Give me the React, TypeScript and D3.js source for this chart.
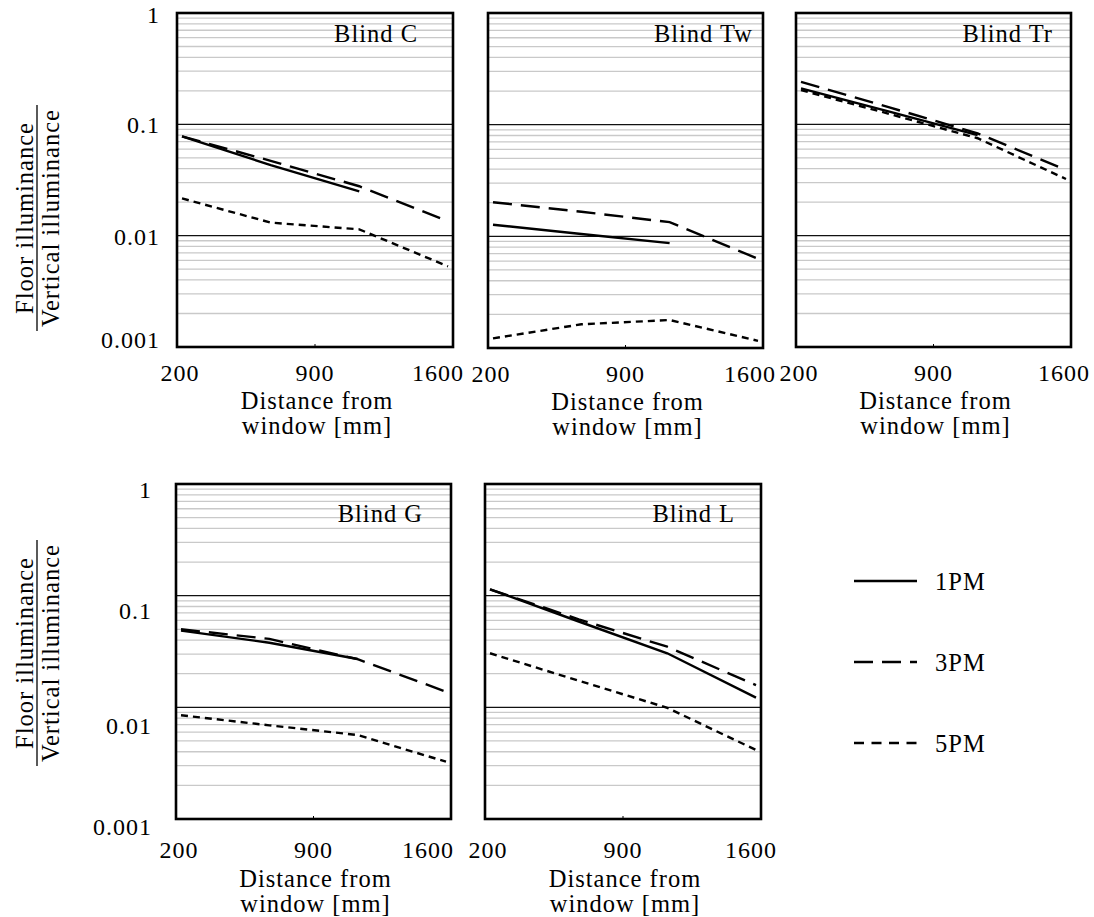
import React from "react";
import * as d3 from "d3";

// ---- data ----
const distances = [200, 667, 1133, 1600];
const xTickValues = [200, 900, 1600];
const yTickValues = [1, 0.1, 0.01, 0.001];
const yTickLabels = ["1", "0.1", "0.01", "0.001"];
const seriesNames = ["1PM", "3PM", "5PM"];
const blindNames = ["Blind C", "Blind Tw", "Blind Tr", "Blind G", "Blind L"];

const blindC_1PM = [0.078, 0.043, 0.025, null];
const blindC_3PM = [0.078, 0.047, 0.0278, 0.0135];
const blindC_5PM = [0.0216, 0.0131, 0.0114, 0.0053];

const blindTw_1PM = [0.0127, 0.0105, 0.0087, null];
const blindTw_3PM = [0.0202, 0.0166, 0.0134, 0.0063];
const blindTw_5PM = [0.00122, 0.00163, 0.00178, 0.00116];

const blindTr_1PM = [0.21, 0.13, 0.08, null];
const blindTr_3PM = [0.241, 0.142, 0.083, 0.039];
const blindTr_5PM = [0.203, 0.124, 0.075, 0.0323];

const blindG_1PM = [0.0486, 0.0379, 0.0271, null];
const blindG_3PM = [0.05, 0.041, 0.027, 0.0138];
const blindG_5PM = [0.0085, 0.0069, 0.00565, 0.00326];

const blindL_1PM = [0.114, 0.0587, 0.0305, 0.0122];
const blindL_3PM = [0.114, 0.0614, 0.0349, 0.0158];
const blindL_5PM = [0.0305, 0.0173, 0.0099, 0.00415];

const blindSeries = [
  [blindC_1PM, blindC_3PM, blindC_5PM],
  [blindTw_1PM, blindTw_3PM, blindTw_5PM],
  [blindTr_1PM, blindTr_3PM, blindTr_5PM],
  [blindG_1PM, blindG_3PM, blindG_5PM],
  [blindL_1PM, blindL_3PM, blindL_5PM],
];

// ---- layout / styles ----
const FONT = "'Liberation Serif', 'Times New Roman', serif";
const FS = 24.5;
const LS = 1;
const TFS = 24;
const dashes = ["none", "19,9", "7,5"];
const panels = [
  { left: 177, top: 13, w: 276, h: 334, row: 0, yLabels: true, titleMargin: 35, x1600Shift: -10 },
  { left: 488, top: 13, w: 275, h: 335, row: 0, yLabels: false, titleMargin: 10, x1600Shift: -8 },
  { left: 796, top: 13, w: 275, h: 334, row: 0, yLabels: false, titleMargin: 18, x1600Shift: -2 },
  { left: 176, top: 484, w: 275, h: 335, row: 1, yLabels: true, titleMargin: 28, x1600Shift: -18 },
  { left: 485, top: 484, w: 276, h: 335, row: 1, yLabels: false, titleMargin: 26, x1600Shift: -5 },
];
const rows = [
  { tickDy: 26, title1Dy: 53, title2Dy: 78, yLabelShift: [2, 1, 1, -7], titleDy: 20, yTitleCy: 218 },
  { tickDy: 31, title1Dy: 59, title2Dy: 84, yLabelShift: [6, 15, 19, 8], titleDy: 29, yTitleCy: 653 },
];

function Panel({ p, idx }) {
  const x = d3.scaleLinear().domain([200, 1600]).range([p.left + 5, p.left + p.w - 5]);
  const y = d3.scaleLog().domain([0.001, 1]).range([p.top + p.h, p.top]);
  const r = rows[p.row];
  const minor = [];
  [0.001, 0.01, 0.1].forEach((d) => {
    for (let k = 2; k <= 9; k++) minor.push(d * k);
  });
  const line = d3
    .line()
    .defined((d) => d[1] != null)
    .x((d) => x(d[0]))
    .y((d) => y(d[1]));
  return (
    <g>
      {minor.map((v, i) => (
        <line key={"m" + i} x1={p.left} x2={p.left + p.w} y1={y(v)} y2={y(v)} stroke="#c9c9c9" strokeWidth={1.3} />
      ))}
      {[0.1, 0.01].map((v) => (
        <line key={"M" + v} x1={p.left} x2={p.left + p.w} y1={y(v)} y2={y(v)} stroke="#111" strokeWidth={1.2} />
      ))}
      {blindSeries[idx].map((vals, si) => (
        <path
          key={"s" + si}
          d={line(distances.map((dx, i) => [dx, vals[i]]))}
          fill="none"
          stroke="#000"
          strokeWidth={2.4}
          strokeDasharray={dashes[si]}
        />
      ))}
      <rect x={p.left} y={p.top} width={p.w} height={p.h} fill="none" stroke="#000" strokeWidth={2.6} />
      <line x1={x(900)} x2={x(900)} y1={p.top + p.h} y2={p.top + p.h - 3} stroke="#000" strokeWidth={1} />
      <text
        x={p.left + p.w - p.titleMargin}
        y={p.top + r.titleDy}
        textAnchor="end"
        dominantBaseline="central"
        fontFamily={FONT}
        fontSize={FS}
        letterSpacing={LS}
      >
        {blindNames[idx]}
      </text>
      {xTickValues.map((v) => (
        <text
          key={"xt" + v}
          x={x(v) + (v === 1600 ? p.x1600Shift : v === 200 ? -2 : 0)}
          y={p.top + p.h + r.tickDy}
          textAnchor="middle"
          dominantBaseline="central"
          fontFamily={FONT}
          fontSize={TFS}
          letterSpacing={LS}
        >
          {v}
        </text>
      ))}
      <text x={p.left + p.w / 2 + 2} y={p.top + p.h + r.title1Dy} textAnchor="middle" dominantBaseline="central" fontFamily={FONT} fontSize={FS} letterSpacing={LS}>
        Distance from
      </text>
      <text x={p.left + p.w / 2 + 2} y={p.top + p.h + r.title2Dy} textAnchor="middle" dominantBaseline="central" fontFamily={FONT} fontSize={FS} letterSpacing={LS}>
        window [mm]
      </text>
      {p.yLabels &&
        yTickValues.map((v, i) => (
          <text
            key={"yt" + v}
            x={p.left - (p.row === 0 ? 17 : 24)}
            y={y(v) + r.yLabelShift[i]}
            textAnchor="end"
            dominantBaseline="central"
            fontFamily={FONT}
            fontSize={TFS}
            letterSpacing={LS}
          >
            {yTickLabels[i]}
          </text>
        ))}
      {p.yLabels && (
        <g>
          <text
            transform={`translate(33,${r.yTitleCy}) rotate(-90)`}
            textAnchor="middle"
            fontFamily={FONT}
            fontSize={FS}
            letterSpacing={LS}
          >
            Floor illuminance
          </text>
          <line x1={37} x2={37} y1={r.yTitleCy - 113} y2={r.yTitleCy + 113} stroke="#000" strokeWidth={1.3} />
          <text
            transform={`translate(59,${r.yTitleCy}) rotate(-90)`}
            textAnchor="middle"
            fontFamily={FONT}
            fontSize={FS}
            letterSpacing={LS}
          >
            Vertical illuminance
          </text>
        </g>
      )}
    </g>
  );
}

function Legend() {
  const ly = d3.scalePoint().domain(seriesNames).range([581, 743]);
  return (
    <g>
      {seriesNames.map((s, i) => (
        <g key={s}>
          <line x1={854} x2={917} y1={ly(s)} y2={ly(s)} stroke="#000" strokeWidth={2.6} strokeDasharray={i === 2 ? "10,7.5" : dashes[i]} />
          <text x={935} y={ly(s)} dominantBaseline="central" fontFamily={FONT} fontSize={FS} letterSpacing={LS}>
            {s}
          </text>
        </g>
      ))}
    </g>
  );
}

export default function App() {
  return (
    <svg
      width={1094}
      height={917}
      style={{ position: "absolute", left: 0, top: 0, background: "#fff" }}
    >
      <rect x={0} y={0} width={1094} height={917} fill="#fff" />
      {panels.map((p, i) => (
        <Panel key={i} p={p} idx={i} />
      ))}
      <Legend />
    </svg>
  );
}
